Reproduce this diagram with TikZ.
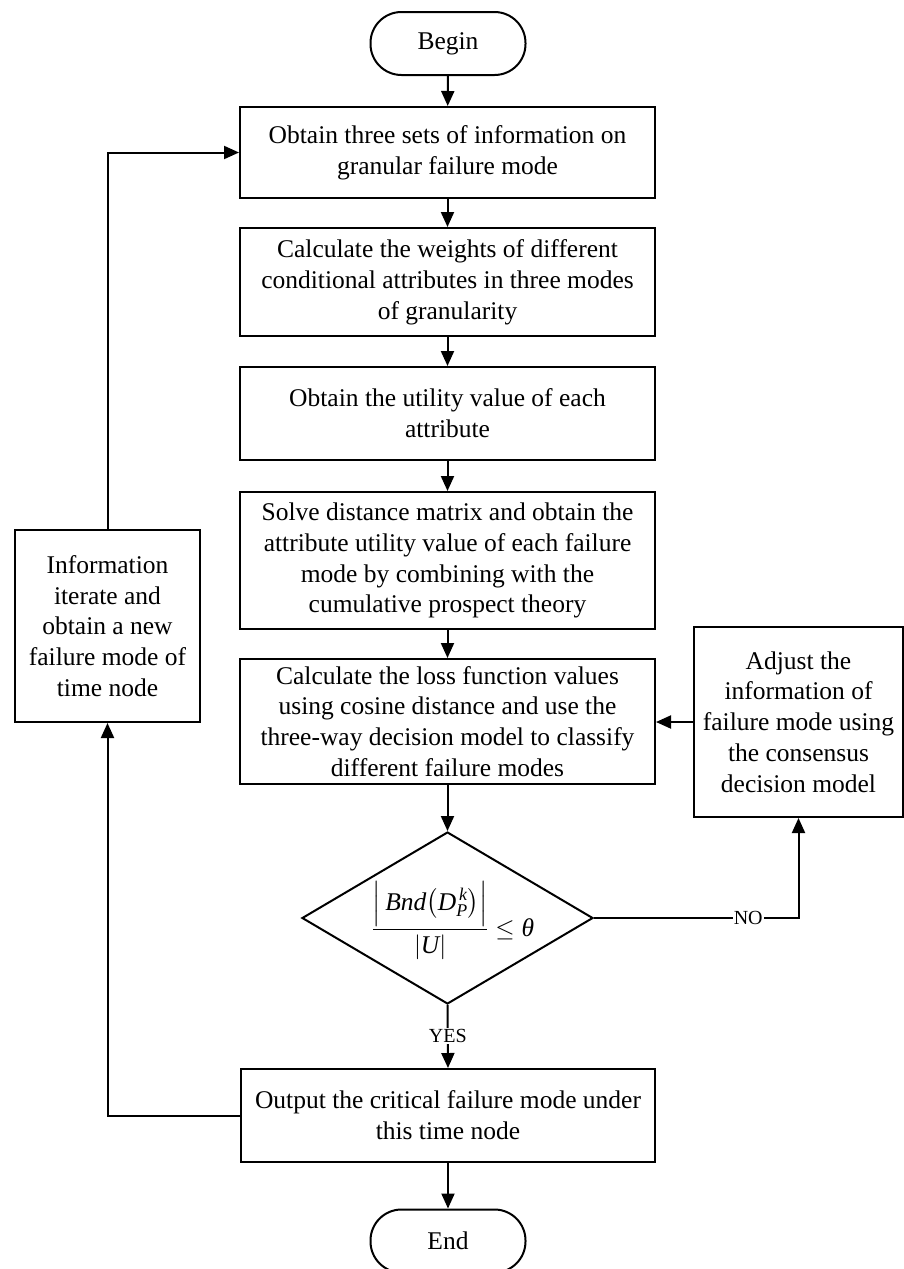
\documentclass[tikz,border=0pt]{standalone}
\usepackage{amsmath}
\usepackage{fontspec}
\setmainfont{Liberation Serif}
\usetikzlibrary{arrows.meta,shapes.geometric}
\newcommand\boxfont{\fontsize{25.5pt}{30.8pt}\selectfont}
\newcommand\lblfont{\fontsize{20pt}{24pt}\selectfont}
\begin{document}
\begin{tikzpicture}[x=1pt,y=-1pt,
  base/.style={draw, line width=2pt, inner sep=0pt, align=center, font=\boxfont},
  box/.style={base, minimum width=415pt},
  term/.style={base, rounded corners=31pt, minimum width=155pt, minimum height=63pt},
  dia/.style={base, diamond, aspect=1.69, minimum width=291pt, minimum height=172pt},
  arr/.style={line width=2pt, -{Triangle[length=15pt,width=13pt]}},
  lbl/.style={fill=white, font=\lblfont, inner sep=1pt}]
\useasboundingbox (0,0) rectangle (904,1269);
\node[term] (begin) at (448,43.5) {Begin};
\node[box, minimum height=91pt] (b1) at (447.5,152.5) {Obtain three sets of information on\\granular failure mode};
\node[box, minimum height=108pt] (b2) at (447.5,282) {Calculate the weights of different\\conditional attributes in three modes\\of granularity};
\node[box, minimum height=93pt] (b3) at (447.5,413.5) {Obtain the utility value of each\\attribute};
\node[box, minimum height=137pt] (b4) at (447.5,560.5) {Solve distance matrix and obtain the\\attribute utility value of each failure\\mode by combining with the\\cumulative prospect theory};
\node[box, minimum height=125pt] (b5) at (447.5,721.5) {Calculate the loss function values\\using cosine distance and use the\\three-way decision model to classify\\different failure modes};
\node[dia] (dia) at (447.5,918) {\makebox[0pt]{\hspace*{11pt}\raisebox{-18pt}[0pt][0pt]{$\displaystyle\frac{\Big|\,\textit{Bnd}\big(\textit{D}^{\,\textit{k}}_{\textit{P}}\big)\Big|}{\left|\textit{U}\right|}\le\textit{θ}$}}};
\node[box, minimum width=414pt, minimum height=93pt] (out) at (448,1115.5) {Output the critical failure mode under\\this time node};
\node[term] (end) at (448,1241) {End};
\node[base, minimum width=185pt, minimum height=192pt] (left) at (107.5,626) {Information\\iterate and\\obtain a new\\failure mode of\\time node};
\node[base, minimum width=209pt, minimum height=190pt] (adj) at (798.5,722) {Adjust the\\information of\\failure mode using\\the consensus\\decision model};
\draw[arr] (begin) -- (b1);
\draw[arr] (b1) -- (b2);
\draw[arr] (b2) -- (b3);
\draw[arr] (b3) -- (b4);
\draw[arr] (b4) -- (b5);
\draw[arr] (b5) -- (dia);
\draw[arr] (dia.south) -- node[lbl, pos=0.49] {YES} (out.north);
\draw[arr] (out) -- (end);
\draw[arr] (dia.east) -| node[lbl, pos=0.377] {NO} (adj.south);
\draw[arr] (adj.west) -- (adj.west -| b5.east);
\draw[arr] (out.west) -| (left.south);
\draw[arr] (left.north) |- (b1.west);
\end{tikzpicture}
\end{document}
